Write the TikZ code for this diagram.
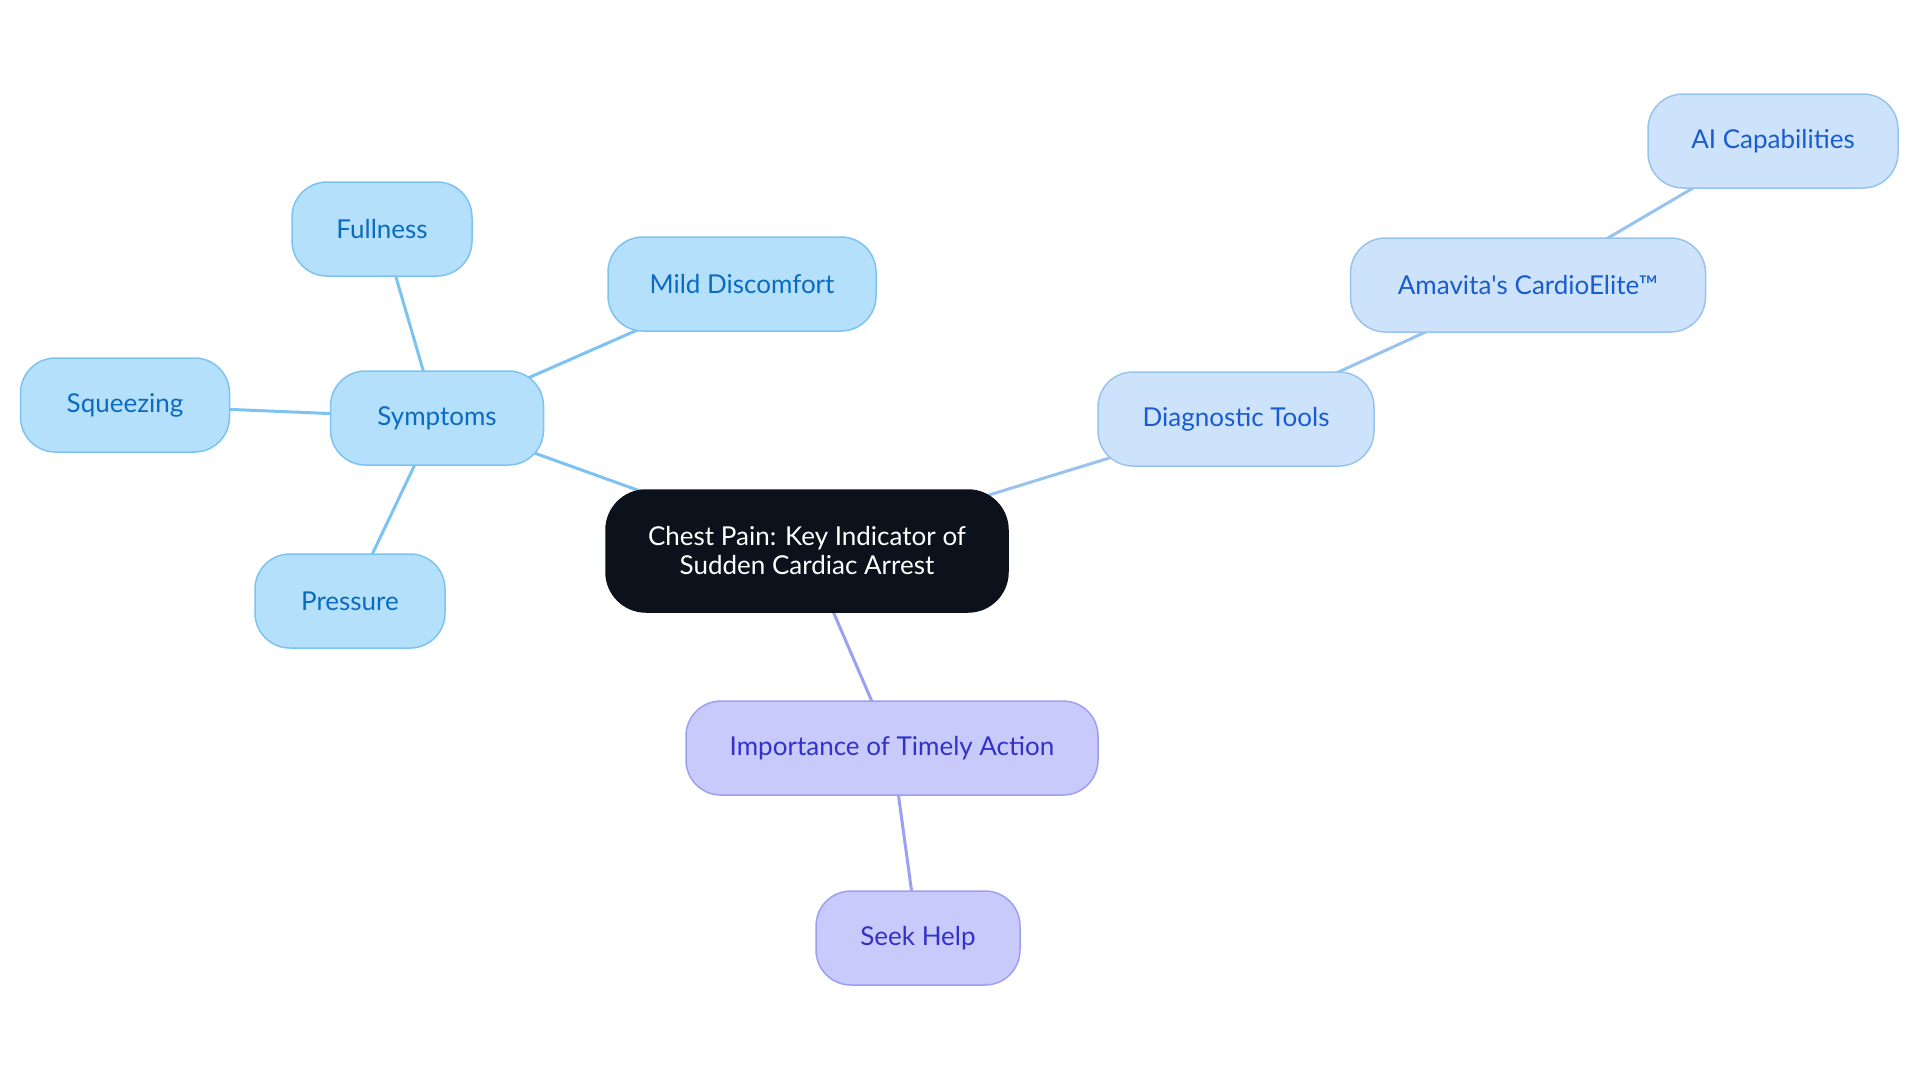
\documentclass[tikz,border=0pt]{standalone}
\usepackage{fontspec}
\setmainfont{Lato}
\usetikzlibrary{backgrounds}
\definecolor{symfill}{HTML}{B5E0FC}
\definecolor{symdraw}{HTML}{7DC3F2}
\definecolor{symtext}{HTML}{0B6BBF}
\definecolor{diafill}{HTML}{CDE3FB}
\definecolor{diadraw}{HTML}{99C3EF}
\definecolor{diatext}{HTML}{1A5CCF}
\definecolor{impfill}{HTML}{C8CAFC}
\definecolor{impdraw}{HTML}{9CA0F3}
\definecolor{imptext}{HTML}{3331C6}
\definecolor{cenfill}{HTML}{0B121C}
\tikzset{
  base/.style={rectangle, rounded corners=17.5pt, minimum height=47pt, inner sep=0pt,
    line width=0.75pt, font=\fontsize{13}{14}\selectfont, align=center},
  sym/.style={base, fill=symfill, draw=symdraw, text=symtext},
  dia/.style={base, fill=diafill, draw=diadraw, text=diatext},
  imp/.style={base, fill=impfill, draw=impdraw, text=imptext},
  cen/.style={base, fill=cenfill, draw=cenfill, text=white, rounded corners=20pt,
    minimum height=61pt, font=\fontsize{13}{14.5}\selectfont},
  symedge/.style={draw=symdraw, line width=1.5pt},
  diaedge/.style={draw=diadraw, line width=1.5pt},
  impedge/.style={draw=impdraw, line width=1.5pt},
}
\begin{document}
\begin{tikzpicture}[x=0.5pt, y=-0.5pt]
\useasboundingbox (0,0) rectangle (1920,1083);
\node[cen, minimum width=201pt] (center) at (807,551) {Chest Pain: Key Indicator of\\Sudden Cardiac Arrest};
\node[sym, minimum width=106.5pt] (symptoms) at (437,418) {Symptoms};
\node[sym, minimum width=90pt] (fullness) at (382,229) {Fullness};
\node[sym, minimum width=134pt] (mild) at (742,284) {Mild Discomfort};
\node[sym, minimum width=104.5pt] (squeezing) at (125,405) {Squeezing};
\node[sym, minimum width=95pt] (pressure) at (350,601) {Pressure};
\node[dia, minimum width=138pt] (diag) at (1236,419) {Diagnostic Tools};
\node[dia, minimum width=177.5pt] (amavita) at (1528,285) {Amavita\textquotesingle s CardioElite™};
\node[dia, minimum width=125pt] (ai) at (1773,141) {AI Capabilities};
\node[imp, minimum width=206pt] (importance) at (892,748) {Importance of Timely Action};
\node[imp, minimum width=102pt] (seek) at (918,938) {Seek Help};
\begin{scope}[on background layer]
\draw[symedge] (center.center) -- (symptoms.center);
\draw[symedge] (symptoms.center) -- (fullness.center);
\draw[symedge] (symptoms.center) -- (mild.center);
\draw[symedge] (symptoms.center) -- (squeezing.center);
\draw[symedge] (symptoms.center) -- (pressure.center);
\draw[diaedge] (center.center) -- (diag.center);
\draw[diaedge] (diag.center) -- (amavita.center);
\draw[diaedge] (amavita.center) -- (ai.center);
\draw[impedge] (center.center) -- (importance.center);
\draw[impedge] (importance.center) -- (seek.center);
\end{scope}
\end{tikzpicture}
\end{document}
